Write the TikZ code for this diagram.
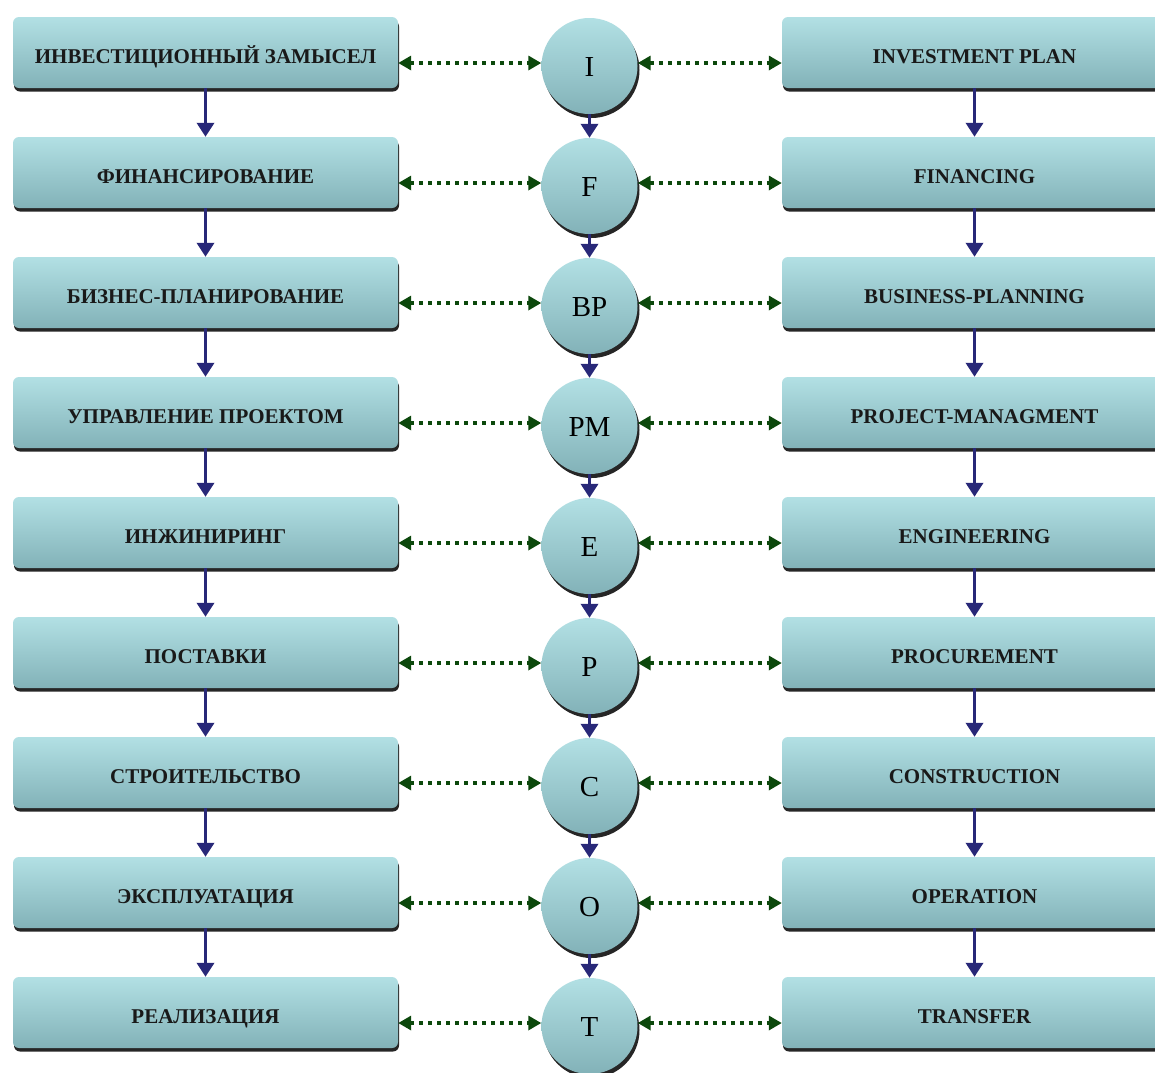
\documentclass[tikz,border=0pt]{standalone}
\usepackage{fontspec}
\setmainfont{Liberation Serif}
\usetikzlibrary{arrows.meta,shadows}

\definecolor{boxtop}{RGB}{178,224,228}
\definecolor{boxbot}{RGB}{130,178,184}
\definecolor{linkgreen}{RGB}{12,72,12}
\definecolor{flownavy}{RGB}{40,40,120}

\tikzset{
  stage/.style={rectangle, rounded corners=6pt, minimum width=385pt, minimum height=71pt,
    top color=boxtop, bottom color=boxbot, draw=none,
    drop shadow={shadow xshift=1pt, shadow yshift=-3.5pt, fill=black, opacity=0.85},
    text height=21pt, text depth=0pt,
    font=\bfseries\fontsize{21}{21}\selectfont, text=black!90},
  letter/.style={circle, minimum size=96pt, inner sep=0pt,
    top color=boxtop, bottom color=boxbot, draw=none,
    drop shadow={shadow xshift=2pt, shadow yshift=-4pt, fill=black, opacity=0.85},
    text height=20pt, text depth=0pt,
    font=\fontsize{29}{29}\selectfont},
  flow/.style={draw=flownavy, line width=3.5pt,
    -{Triangle[length=14pt,width=17pt,fill=flownavy]}},
  link/.style={draw=linkgreen, line width=4pt, dash pattern=on 4pt off 5pt,
    {Triangle[length=13pt,width=14pt,fill=linkgreen]}-{Triangle[length=13pt,width=14pt,fill=linkgreen]}}
}

\begin{document}
\begin{tikzpicture}[x=1pt,y=-1pt]
\useasboundingbox (0,0) rectangle (1155,1072);
\fill[white] (0,0) rectangle (1155,1072);

% stages, letters and their translations
\foreach \n/\ru/\ab/\en in {1/ИНВЕСТИЦИОННЫЙ ЗАМЫСЕЛ/I/INVESTMENT PLAN,
    2/ФИНАНСИРОВАНИЕ/F/FINANCING,
    3/БИЗНЕС-ПЛАНИРОВАНИЕ/BP/BUSINESS-PLANNING,
    4/УПРАВЛЕНИЕ ПРОЕКТОМ/PM/PROJECT-MANAGMENT,
    5/ИНЖИНИРИНГ/E/ENGINEERING,
    6/ПОСТАВКИ/P/PROCUREMENT,
    7/СТРОИТЕЛЬСТВО/C/CONSTRUCTION,
    8/ЭКСПЛУАТАЦИЯ/O/OPERATION,
    9/РЕАЛИЗАЦИЯ/T/TRANSFER} {
  \node[stage] (l\n) at (205.5, {52.5+120*(\n-1)}) {\ru};
  \node[letter] (c\n) at (589.5, {66+120*(\n-1)}) {\ab};
  \node[stage] (r\n) at (974.5, {52.5+120*(\n-1)}) {\en};
}

% arrows down each column
\foreach \n [evaluate=\n as \m using int(\n+1)] in {1,...,8} {
  \draw[flow] (l\n.south) -- (l\m.north);
  \draw[flow] (c\n.south) -- (c\m.north);
  \draw[flow] (r\n.south) -- (r\m.north);
}

% links across
\foreach \n in {1,...,9} {
  \draw[link] (l\n.east |- c\n.west) ++(0,-3) coordinate (a\n) -- (a\n -| c\n.west);
  \draw[link] (c\n.east) ++(0,-3) coordinate (b\n) -- (b\n -| r\n.west);
}
\end{tikzpicture}
\end{document}
